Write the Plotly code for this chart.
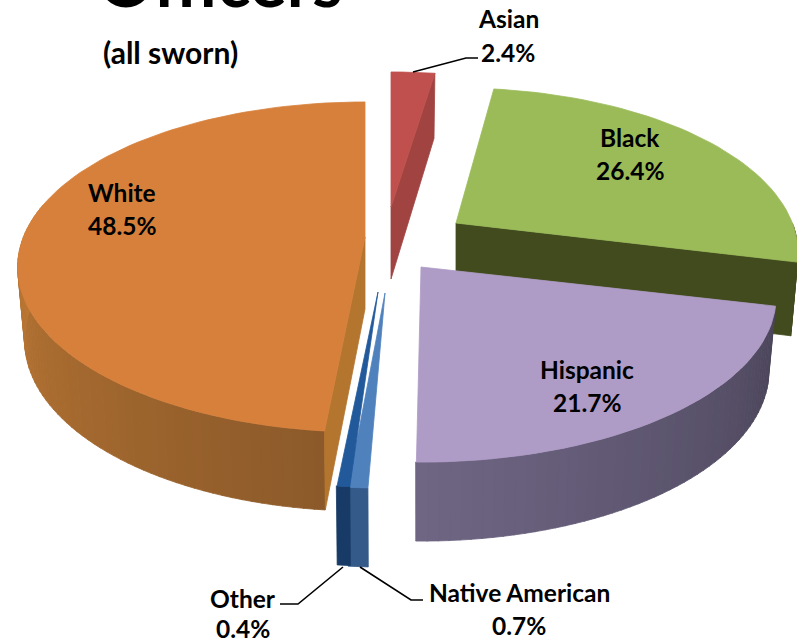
import math
import plotly.graph_objects as go

# ---- data ----
categories = ["Asian", "Black", "Hispanic", "Native American", "Other", "White"]
values = [2.4, 26.4, 21.7, 0.7, 0.4, 48.5]
title_text = "Officers"
subtitle_text = "(all sworn)"

# ---- styling / geometry ----
APEX_X = [391, 456, 421, 385, 378, 365]
APEX_Y = [207, 223, 267, 293, 292, 237]
R_SCALE = [1.0, 0.975, 1.012, 1.0, 1.0, 0.99]
START_ADJ = [0, -1, 0, 0.7, -0.3, 0]
END_ADJ = [0, 0, -1, 0.9, 0, 0]
TOP = ["#C0504D", "#9BBB59", "#AF9CC6", "#4F81BD", "#21599B", "#D7803B"]
WALL_A = ["#A04341", "#424B1E", "#4A4459", "#345A8A", "#173B66", "#8C5A2A"]
WALL_B = ["#A04341", "#424B1E", "#6F6684", "#345A8A", "#173B66", "#C27B35"]
INNER = ["#A04341", "#424B1E", None, None, None, "#B4752E"]
LABEL_POS = [(508, 18, 34), (630, 137, 33), (587, 369, 33), (519, 592, 33), (243, 598, 30), (122, 192, 33)]
LEADERS = [
    [(413, 72), (466, 58), (478, 58)],
    None, None,
    [(360, 567), (411, 600), (423, 600)],
    [(343, 567), (298, 604), (280, 604)],
    None,
]
R, K, P = 345.0, 159.6, 0.182


def top_pt(ax, ay, deg, rs):
    t = math.radians(deg)
    s = 1 / (1 + P * math.cos(t))
    return ax + rs * R * math.sin(t) * s, ay - K * math.cos(t) * s


def low_pt(ax, ay, deg, rs):
    x, y = top_pt(ax, ay, deg, rs)
    return ax + (x - ax) * 0.98, y + 72 - 7 * math.cos(math.radians(deg))


def mix(c1, c2, f):
    a = [int(c1[i:i + 2], 16) for i in (1, 3, 5)]
    b = [int(c2[i:i + 2], 16) for i in (1, 3, 5)]
    return "rgb(%d,%d,%d)" % tuple(round(a[i] + (b[i] - a[i]) * f) for i in range(3))


fig = go.Figure()


def poly(pts, color):
    fig.add_trace(go.Scatter(
        x=[p[0] for p in pts] + [pts[0][0]],
        y=[p[1] for p in pts] + [pts[0][1]],
        mode="lines", fill="toself", fillcolor=color,
        line=dict(color=color, width=0.8), hoverinfo="skip", showlegend=False))


total = sum(values)
edges = [0.0]
for v in values:
    edges.append(edges[-1] + v / total * 360)

for i in range(len(values)):
    ax, ay, rs = APEX_X[i], APEX_Y[i], R_SCALE[i]
    a0, a1 = edges[i] + START_ADJ[i], edges[i + 1] + END_ADJ[i]
    # outer wall, front half only
    w0, w1 = max(a0, 90), min(a1, 282)
    if w1 > w0:
        n = max(1, int((w1 - w0) / 1.5))
        for j in range(n):
            d0 = w0 + (w1 - w0) * j / n
            d1 = w0 + (w1 - w0) * (j + 1) / n + 0.1
            f = (j + 0.5) / n
            poly([top_pt(ax, ay, d0, rs), top_pt(ax, ay, d1, rs), low_pt(ax, ay, d1, rs), low_pt(ax, ay, d0, rs)],
                 mix(WALL_A[i], WALL_B[i], f))
    # inner radial wall
    if INNER[i]:
        edge = a0 if categories[i] == "White" else a1
        poly([(ax, ay), top_pt(ax, ay, edge, rs), low_pt(ax, ay, edge, rs), (ax, ay + 72)], INNER[i])
    # top face
    m = max(2, int((a1 - a0) / 2))
    arc = [top_pt(ax, ay, a0 + (a1 - a0) * j / m, rs) for j in range(m + 1)]
    poly([(ax, ay)] + arc, TOP[i])

for pts in LEADERS:
    if pts:
        fig.add_trace(go.Scatter(x=[p[0] for p in pts], y=[p[1] for p in pts], mode="lines",
                                 line=dict(color="black", width=1.6), hoverinfo="skip", showlegend=False))

FONT = "Lato"
annotations = []


def text(x, y, s, size):
    annotations.append(dict(x=x, y=y, text="<b>%s</b>" % s, showarrow=False, xref="x", yref="y",
                            xanchor="center", yanchor="middle",
                            font=dict(family=FONT, size=size, color="black")))


for cat, val, (x, y, gap) in zip(categories, values, LABEL_POS):
    text(x, y, cat, 24.5)
    text(x, y + gap, "%.1f%%" % val, 24.5)
text(170, 52, subtitle_text, 30)
annotations.append(dict(x=220, y=1, text="<b>%s</b>" % title_text, showarrow=False, xref="x", yref="paper",
                        xanchor="center", yanchor="bottom", yshift=-24,
                        font=dict(family=FONT, size=69, color="black")))

fig.update_layout(
    width=797, height=641, margin=dict(l=0, r=0, t=0, b=0),
    paper_bgcolor="white", plot_bgcolor="white", showlegend=False,
    xaxis=dict(range=[0, 797], visible=False, fixedrange=True),
    yaxis=dict(range=[641, 0], visible=False, fixedrange=True),
    annotations=annotations,
)
fig.write_html("out.html", post_script="document.body.style.margin='0';",
               config=dict(displayModeBar=False))
